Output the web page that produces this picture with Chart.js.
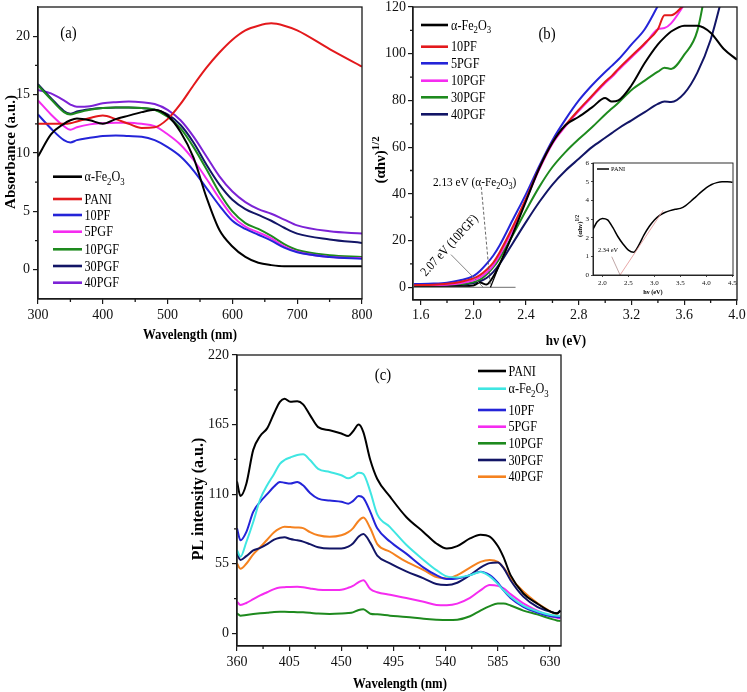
<!DOCTYPE html>
<html><head><meta charset="utf-8">
<script src="https://cdn.jsdelivr.net/npm/chart.js@4.4.0/dist/chart.umd.min.js"></script>
<style>
html,body{margin:0;padding:0;background:#fff;}
#wrap{position:relative;width:747px;height:692px;overflow:hidden;background:#fff;}
#wrap canvas{position:absolute;left:0;top:0;}
</style></head><body>
<div id="wrap">
<canvas id="cA" width="747" height="692"></canvas>
<canvas id="cB" width="747" height="692"></canvas>
<canvas id="cIn" width="747" height="692"></canvas>
<canvas id="cC" width="747" height="692"></canvas>
</div>
<script>
// ---------------- DATA: panel (a) absorbance ----------------
const aWavelength = [300,320,340,350,360,380,400,420,440,460,480,500,520,540,560,580,600,620,640,660,680,700,750,800];
const aFe2O3 = [9.7,11.6,12.5,12.8,12.95,12.8,12.5,12.9,13.2,13.5,13.7,13.2,11.8,9.6,6.2,3.4,2.0,1.1,0.6,0.4,0.3,0.3,0.3,0.3];
const aPANI  = [12.5,12.5,12.5,12.55,12.7,13.0,13.2,12.9,12.5,12.15,12.2,12.9,14.2,15.8,17.3,18.6,19.7,20.5,20.9,21.1,20.9,20.5,18.9,17.4];
const a10PF  = [13.3,12.1,11.1,10.9,11.1,11.3,11.45,11.5,11.45,11.4,11.1,10.5,9.7,8.5,7.0,5.5,4.2,3.5,3.0,2.5,1.9,1.5,1.1,0.95];
const a5PGF  = [14.5,13.3,12.3,12.0,12.2,12.45,12.55,12.6,12.6,12.5,12.3,11.6,10.7,9.4,7.8,6.1,4.6,3.7,3.2,2.7,2.0,1.55,1.1,1.0];
const a10PGF = [15.8,14.6,13.5,13.3,13.45,13.7,13.85,13.9,13.9,13.85,13.7,13.1,12.1,10.5,8.6,6.6,5.0,4.0,3.5,2.9,2.2,1.7,1.25,1.1];
const a30PGF = [15.9,14.7,13.6,13.35,13.55,13.75,13.85,13.9,13.9,13.85,13.7,13.3,12.4,10.9,9.0,7.3,6.0,5.2,4.7,4.2,3.6,3.1,2.6,2.3];
const a40PGF = [15.4,15.1,14.5,14.15,13.95,14.0,14.25,14.35,14.4,14.35,14.2,13.7,12.8,11.4,9.7,8.0,6.7,5.8,5.2,4.8,4.3,3.8,3.3,3.1];
const aLabels = ['α-Fe2O3','PANI','10PF','5PGF','10PGF','30PGF','40PGF'];
const aXTicks = [300,400,500,600,700,800];
const aYTicks = [0,5,10,15,20];

// ---------------- DATA: panel (b) Tauc plot ----------------
const bHv = [1.55,1.7,1.8,1.9,2.0,2.05,2.1,2.15,2.2,2.3,2.4,2.5,2.6,2.7,2.8,2.9,3.0,3.05,3.1,3.2,3.3,3.4,3.45,3.5,3.6,3.7,3.8,3.9,4.0];
const bFe2O3 = [0.1,0.1,0.2,0.4,0.8,2.0,1.2,4.5,10,23,37,51,62,69.5,73,77,81,79.5,80,86.5,96,104,107,109.5,112,112,109,102,97.4];
const b10PF  = [0.9,1.1,1.5,2.3,3.8,5.2,7.5,10.5,15,26,38,51,62,69.5,76,82,88,90.5,93.5,99,104.5,110.5,116.5,116.5,121,null,null,null,null];
const b5PGF  = [1.4,1.6,2.0,3.0,4.8,7.0,10,13.5,18,29,40,52,63,72,80,86.5,92.2,94.8,97.5,104,110.5,120.5,null,null,null,null,null,null,null];
const b10PGF = [0.5,0.7,1.0,1.7,3.0,4.2,6.3,9.3,13.8,25,37.5,50.5,61.5,69,75.5,81.5,87.5,90,93,98.5,104,110.5,111,113,121,null,null,null,null];
const b30PGF = [0.4,0.5,0.8,1.3,2.2,3.3,5.5,8.5,12.5,22.5,33,43,51.5,58,63.5,68.5,74,76.5,79,84.5,88.5,92.3,94,93.5,99.6,110,140,null,null];
const b40PGF = [0.3,0.4,0.6,1.0,1.8,2.6,4.0,6.5,10,19,28,36.5,44,50,55,60,64,66,68,71.5,75,78.5,79.5,79.3,83,92,106,127,null];
const bLabels = ['α-Fe2O3','10PF','5PGF','10PGF','30PGF','40PGF'];
const bXTicks = [1.6,2.0,2.4,2.8,3.2,3.6,4.0];
const bYTicks = [0,20,40,60,80,100,120];
// band-gap construction lines [hv, value]
const bBaseline = [[1.542,0],[2.32,0]];
const bDash213  = [[2.06,43],[2.13,0]];
const bTan213   = [[2.13,0],[2.20,10]];
const bLead207  = [[1.83,14],[2.075,0]];

// ---------------- DATA: inset (PANI) ----------------
const inHv = [1.82,1.9,2.0,2.1,2.2,2.3,2.4,2.5,2.6,2.7,2.8,2.9,3.0,3.1,3.2,3.3,3.4,3.5,3.6,3.7,3.8,3.9,4.0,4.1,4.2,4.3,4.4,4.5];
const inPANI = [2.45,2.85,3.03,2.95,2.55,2.05,1.65,1.33,1.22,1.6,2.15,2.6,2.95,3.2,3.35,3.45,3.52,3.57,3.72,3.95,4.2,4.45,4.68,4.85,4.95,5.0,5.0,4.97];
const inXTicks = [2.0,2.5,3.0,3.5,4.0,4.5];
const inYTicks = [0,1,2,3,4,5,6];
const inTangent = [[2.34,0],[3.17,3.47]];
const inLeader  = [[2.18,0.98],[2.34,0]];

// ---------------- DATA: panel (c) PL ----------------
const cWavelength = [360,363,368,374,380,386,392,397,401,406,412,417,423,430,440,450,456,460,465,469,475,481,492,506,521,532,541,550,561,570,578,585,590,596,607,619,631,636,639];
const cPANI   = [120,108.5,118,145,156,162,174,183,185.5,183,183.5,181,172.5,163,160.5,158,156,159.5,165,159,137,122,108,92,80,71,67,69,75,78,76.5,69,60,46,31.5,23.5,17,15.8,18];
const cFe2O3  = [66,60.5,72,88,106,117,126,134,137,139,141,141.5,137,130,127.5,125,122.5,124,127,126,112,94,84,70,58,50,45,44.2,46,48.5,45,39,34,29,22,17.5,14.5,14,13.7];
const c10PF   = [83,73.5,80,96,104,110,116,119.7,119,118.4,119.7,117,111,106.5,105,104,102.5,104.5,108.5,107,96,83,72.5,63,52,46,43,43.4,46,48.7,46,40,34,28,21,16.5,13.5,13,12.6];
const c5PGF   = [25,22.5,24,27,30,32.5,35,36.3,36.5,36.7,36.8,36.5,35.5,34.5,34.2,34.5,36,37.5,40.5,42,35,32.5,30.5,28,25,22.5,22.3,23.5,28,34,38.2,37.5,35.5,31,23.7,18,13.5,12.3,11.8];
const c10PGF  = [15.8,14,14.5,15.2,15.8,16.3,16.8,17,17,16.9,16.7,16.6,16.2,15.6,15.3,15.6,16,16.6,18.5,19,15.5,15,14,13,11.5,10.8,10.5,10.8,13.5,18,21.5,23.5,23.5,22,18,15,11.5,10.2,9.7];
const c30PGF  = [63,58,61,65.5,67.5,70.5,74,75.5,76,74.5,73.5,72.5,70.5,68,67,67,68.5,71,76.5,78.5,71.5,61.5,55.3,49,43.5,39,38.2,40,46,52,55.5,56,51.5,42,29,21,17,15.8,18];
const c40PGF  = [55.3,51,55,62.5,68,74,80,83,84.2,84,83.7,83.2,80,77.5,76.3,77.5,80,83,89,91.5,83,70.5,64.5,56.6,50,44.5,43.4,46,52,56.5,58,56.5,52,44,33,24,17,14.5,13];
const cLabels = ['PANI','α-Fe2O3','10PF','5PGF','10PGF','30PGF','40PGF'];
const cXTicks = [360,405,450,495,540,585,630];
const cYTicks = [0,55,110,165,220];

// ---------------- STYLE ----------------
const FONTFAM = '"Liberation Serif","Times New Roman",serif';
const AX = '#1a1a1a';
const COL = {black:'#000000', red:'#e3191c', blue:'#2424d8', mag:'#f52cf0', green:'#1e8a1e', navy:'#121566', purple:'#7c22d6', cyan:'#3fe6e2', orange:'#f5821f'};

function parseRich(s){
  const out=[]; let i=0;
  while(i<s.length){
    if(s[i]==='^' && s[i+1]==='{'){ const j=s.indexOf('}',i); out.push({t:s.slice(i+2,j),m:2}); i=j+1; continue; }
    const c=s[i], prev=i>0?s[i-1]:'';
    if(/\d/.test(c) && /[A-Za-z]/.test(prev)){ out.push({t:c,m:1}); i++; continue; }
    if(out.length && out[out.length-1].m===0) out[out.length-1].t+=c; else out.push({t:c,m:0});
    i++;
  }
  return out;
}
function drawRich(ctx,s,x,y,o){
  const size=o.size, parts=parseRich(s);
  ctx.save(); ctx.translate(x,y); if(o.rot) ctx.rotate(o.rot); ctx.scale(o.sx||1,1);
  ctx.fillStyle=o.color||'#000'; ctx.textBaseline='alphabetic'; ctx.textAlign='left';
  const fnt=m=>(o.bold?'bold ':'')+(m?size*(o.subScale||0.72):size)+'px '+FONTFAM;
  let w=0; parts.forEach(p=>{ctx.font=fnt(p.m); p.w=ctx.measureText(p.t).width; w+=p.w;});
  let cx=o.align==='center'?-w/2:(o.align==='right'?-w:0);
  const base=size*0.33;
  parts.forEach(p=>{ ctx.font=fnt(p.m); const dy=p.m===1?size*0.25:(p.m===2?-size*0.42:0); ctx.fillText(p.t,cx,base+dy); cx+=p.w; });
  ctx.restore();
}
function drawLegend(chart,x0,x1,xt,ys,o){
  const ctx=chart.ctx;
  chart.data.datasets.forEach((d,i)=>{
    ctx.save(); ctx.strokeStyle=d.borderColor; ctx.lineWidth=o.lw; ctx.lineCap='butt';
    ctx.beginPath(); ctx.moveTo(x0,ys[i]); ctx.lineTo(x1,ys[i]); ctx.stroke(); ctx.restore();
    drawRich(ctx,d.label,xt,ys[i],{size:o.size,sx:o.sx});
  });
}
function frameAndMinor(chart,minorX,minorY,len,lw){
  const ctx=chart.ctx, ca=chart.chartArea, xs=chart.scales.x, ys=chart.scales.y;
  ctx.save(); ctx.strokeStyle=AX; ctx.lineWidth=lw;
  ctx.strokeRect(ca.left,ca.top,ca.right-ca.left,ca.bottom-ca.top);
  ctx.beginPath();
  minorX.forEach(v=>{const p=xs.getPixelForValue(v); ctx.moveTo(p,ca.bottom); ctx.lineTo(p,ca.bottom+len);});
  minorY.forEach(v=>{const p=ys.getPixelForValue(v); ctx.moveTo(ca.left,p); ctx.lineTo(ca.left-len,p);});
  ctx.stroke(); ctx.restore();
}
function seg(chart,pts,color,lw,dash){
  const ctx=chart.ctx, xs=chart.scales.x, ys=chart.scales.y;
  ctx.save(); ctx.strokeStyle=color; ctx.lineWidth=lw; ctx.setLineDash(dash||[]);
  ctx.beginPath();
  pts.forEach((p,i)=>{const X=xs.getPixelForValue(p[0]), Y=ys.getPixelForValue(p[1]); if(i) ctx.lineTo(X,Y); else ctx.moveTo(X,Y);});
  ctx.stroke(); ctx.restore();
}
function mids(t){const r=[]; for(let i=0;i<t.length-1;i++) r.push((t[i]+t[i+1])/2); return r;}

function buildChart(id,o){
  const datasets=o.series.map((s,i)=>({
    label:o.labels[i],
    data:o.xs.map((xv,j)=>({x:xv,y:s[j]})),
    borderColor:o.colors[i], backgroundColor:o.colors[i], borderWidth:o.lw,
    pointRadius:0, fill:false, cubicInterpolationMode:'monotone', spanGaps:false
  }));
  const axis=(ticksArr,fmt,fit,isX)=>({
    type:'linear', min:o[isX?'xMin':'yMin'], max:o[isX?'xMax':'yMax'],
    afterBuildTicks:s=>{s.ticks=ticksArr.map(v=>({value:v}));},
    afterFit:fit,
    ticks:{autoSkip:false,maxRotation:0,minRotation:0,color:'#111',padding:o.tickPad,
           font:{family:FONTFAM,size:o.tickSize},callback:v=>fmt(v)},
    grid:{drawOnChartArea:false,drawTicks:true,tickLength:o.tickLen,color:AX,lineWidth:o.tickW},
    border:{display:true,color:AX,width:o.frameW}
  });
  return new Chart(document.getElementById(id),{
    type:'line',
    data:{datasets},
    options:{
      responsive:false, animation:false, devicePixelRatio:1, events:[],
      layout:{padding:o.padding},
      plugins:{legend:{display:false},tooltip:{enabled:false},title:{display:false}},
      scales:{
        x:axis(o.xTicks,o.xFmt,s=>{s.height=o.xH;s.paddingLeft=0;s.paddingRight=0;},true),
        y:axis(o.yTicks,o.yFmt,s=>{s.width=o.yW;s.paddingTop=0;s.paddingBottom=0;},false)
      }
    },
    plugins:[o.plugin]
  });
}
const fInt=v=>String(Math.round(v));
const f1=v=>Number(v).toFixed(1);

// ---------------- Panel (b) ----------------
buildChart('cB',{
  xs:bHv, series:[bFe2O3,b10PF,b5PGF,b10PGF,b30PGF,b40PGF], labels:bLabels,
  colors:[COL.black,COL.red,COL.blue,COL.mag,COL.green,COL.navy], lw:2,
  xMin:1.542,xMax:4.0,yMin:-5.44,yMax:120, xTicks:bXTicks,yTicks:bYTicks, xFmt:f1,yFmt:fInt,
  padding:{left:373,top:7,right:10,bottom:0}, yW:40, xH:392,
  tickSize:14,tickPad:2,tickLen:5,tickW:1.2,frameW:1.3,
  plugin:{id:'decB',
    afterDatasetsDraw(ch){
      seg(ch,bBaseline,'#8a8a8a',1.2,[]);
      seg(ch,bDash213,'#555',0.9,[3,2]);
      seg(ch,bTan213,'#000',1.2,[]);
      seg(ch,bLead207,'#777',0.9,[]);
    },
    afterDraw(ch){
      const ctx=ch.ctx, xs=ch.scales.x, ys=ch.scales.y;
      frameAndMinor(ch,mids(bXTicks),mids(bYTicks),3,1.3);
      drawLegend(ch,421,448,451,[25,46.7,63.3,80.7,97.3,114.3],{lw:2.6,size:14,sx:0.87});
      drawRich(ctx,'(b)',547,34,{size:16,sx:0.92,align:'center'});
      drawRich(ctx,'2.13 eV (α-Fe2O3)',xs.getPixelForValue(1.693),ys.getPixelForValue(45.1),{size:13,sx:0.87});
      drawRich(ctx,'2.07 eV (10PGF)',xs.getPixelForValue(1.815),ys.getPixelForValue(18.1),{size:13,sx:0.87,rot:-47.6*Math.PI/180,align:'center'});
      drawRich(ctx,'hν (eV)',566,340,{size:15,bold:true,sx:0.87,align:'center'});
      drawRich(ctx,'(αhν)^{1/2}',380,160,{size:15,bold:true,rot:-Math.PI/2,align:'center'});
    }}
});

// ---------------- Inset ----------------
buildChart('cIn',{
  xs:inHv, series:[inPANI], labels:['PANI'], colors:[COL.black], lw:1.5,
  xMin:1.82,xMax:4.51,yMin:0,yMax:6, xTicks:inXTicks,yTicks:inYTicks, xFmt:f1,yFmt:fInt,
  padding:{left:573,top:163,right:14,bottom:0}, yW:20, xH:417,
  tickSize:7,tickPad:2,tickLen:2,tickW:0.8,frameW:0.9,
  plugin:{id:'decIn',
    beforeDraw(ch){ const ctx=ch.ctx, ca=ch.chartArea; ctx.save(); ctx.fillStyle='#fff'; ctx.fillRect(ca.left,ca.top,ca.right-ca.left,ca.bottom-ca.top); ctx.restore(); },
    afterDatasetsDraw(ch){
      seg(ch,inTangent,'#e29090',0.8,[]);
      seg(ch,inLeader,'#b09090',0.8,[]);
    },
    afterDraw(ch){
      const ctx=ch.ctx, xs=ch.scales.x, ys=ch.scales.y;
      frameAndMinor(ch,[],[],0,0.9);
      drawLegend(ch,597,609,611,[169],{lw:1.5,size:7,sx:0.9});
      drawRich(ctx,'2.34 eV',xs.getPixelForValue(2.11),ys.getPixelForValue(1.34),{size:7,sx:0.9,align:'center'});
      drawRich(ctx,'hν (eV)',653,291.5,{size:7,bold:true,sx:0.9,align:'center'});
      drawRich(ctx,'(αhν)^{1/2}',580,226,{size:7,bold:true,rot:-Math.PI/2,align:'center'});
    }}
});

// ---------------- Panel (a) ----------------
buildChart('cA',{
  xs:aWavelength, series:[aFe2O3,aPANI,a10PF,a5PGF,a10PGF,a30PGF,a40PGF], labels:aLabels,
  colors:[COL.black,COL.red,COL.blue,COL.mag,COL.green,COL.navy,COL.purple], lw:2,
  xMin:300,xMax:800,yMin:-2.5,yMax:22.5, xTicks:aXTicks,yTicks:aYTicks, xFmt:fInt,yFmt:fInt,
  padding:{left:0,top:7,right:385,bottom:0}, yW:38, xH:393,
  tickSize:14,tickPad:3,tickLen:5,tickW:1.2,frameW:1.3,
  plugin:{id:'decA',
    afterDraw(ch){
      const ctx=ch.ctx;
      frameAndMinor(ch,mids(aXTicks),mids(aYTicks),3,1.3);
      drawLegend(ch,53,82,84.5,[176.7,199,215,231.7,249.3,266,282.7],{lw:2.6,size:14,sx:0.87});
      drawRich(ctx,'(a)',68.5,33,{size:16,sx:0.92,align:'center'});
      drawRich(ctx,'Wavelength (nm)',190,334,{size:15,bold:true,sx:0.85,align:'center'});
      drawRich(ctx,'Absorbance (a.u.)',10,152,{size:15,bold:true,rot:-Math.PI/2,align:'center'});
    }}
});

// ---------------- Panel (c) ----------------
buildChart('cC',{
  xs:cWavelength, series:[cPANI,cFe2O3,c10PF,c5PGF,c10PGF,c30PGF,c40PGF], labels:cLabels,
  colors:[COL.black,COL.cyan,COL.blue,COL.mag,COL.green,COL.navy,COL.orange], lw:2,
  xMin:360,xMax:639.5,yMin:-10,yMax:220, xTicks:cXTicks,yTicks:cYTicks, xFmt:fInt,yFmt:fInt,
  padding:{left:197,top:355,right:186,bottom:0}, yW:40, xH:46,
  tickSize:14,tickPad:3,tickLen:5,tickW:1.2,frameW:1.3,
  plugin:{id:'decC',
    afterDraw(ch){
      const ctx=ch.ctx;
      frameAndMinor(ch,mids(cXTicks),mids(cYTicks),3,1.3);
      drawLegend(ch,478,506,508.5,[371,388.7,410,426.7,443.3,460,476.7],{lw:2.6,size:14,sx:0.87});
      drawRich(ctx,'(c)',383,375,{size:16,sx:0.92,align:'center'});
      drawRich(ctx,'Wavelength (nm)',400,683,{size:15,bold:true,sx:0.85,align:'center'});
      drawRich(ctx,'PL intensity (a.u.)',198,499,{size:16,bold:true,rot:-Math.PI/2,align:'center'});
    }}
});
</script>
</body></html>
